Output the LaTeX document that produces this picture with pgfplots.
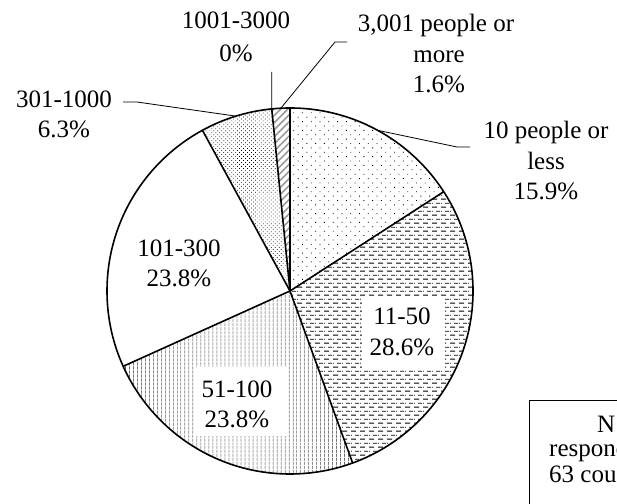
\documentclass[border=0pt]{standalone}
\usepackage{pgfplots}
\pgfplotsset{compat=1.18}
\usepackage{pgfplotstable}
\usepackage{fontspec}
\setmainfont{Liberation Serif}
\usetikzlibrary{patterns.meta}

\tikzdeclarepattern{
  name=hdash,
  type=uncolored,
  bounding box={(0pt,0pt) and (9pt,7.8pt)},
  tile size={(9pt,7.8pt)},
  code={
    \draw[line width=0.8pt] (0pt,1.9pt) -- (5.6pt,1.9pt);
    \draw[line width=0.8pt] (4.5pt,5.8pt) -- (9pt,5.8pt);
    \draw[line width=0.8pt] (0pt,5.8pt) -- (1.1pt,5.8pt);
  }
}

% counts of 63 responses, in order clockwise from the top
\pgfplotstableread{
label count percent
10orless 10 15.9
11-50 18 28.6
51-100 15 23.8
101-300 15 23.8
301-1000 4 6.3
1001-3000 0 0
3001+ 1 1.6
}\piedata

\newcommand\getang[2]{%
  \pgfplotstablegetelem{#1}{count}\of\piedata
  \pgfmathsetmacro{#2}{\pgfplotsretval/63*360}}

\def\C{(axis cs:290,212)}

\begin{document}
\begin{tikzpicture}[font=\fontsize{25}{31}\selectfont]
\clip (0,0) rectangle (617pt,503pt);
% cumulative angles (clockwise from 90 degrees)
\gdef\aA{90}
\getang{0}{\dA}\pgfmathsetmacro{\aB}{\aA-\dA}
\getang{1}{\dB}\pgfmathsetmacro{\aC}{\aB-\dB}
\getang{2}{\dC}\pgfmathsetmacro{\aD}{\aC-\dC}
\getang{3}{\dD}\pgfmathsetmacro{\aE}{\aD-\dD}
\getang{4}{\dE}\pgfmathsetmacro{\aF}{\aE-\dE}
\getang{5}{\dF}\pgfmathsetmacro{\aG}{\aF-\dF}
\getang{6}{\dG}\pgfmathsetmacro{\aH}{\aG-\dG}
\pgfmathsetmacro{\mA}{(\aA+\aB)/2}
\pgfmathsetmacro{\mE}{(\aE+\aF)/2}
\pgfmathsetmacro{\mG}{(\aG+\aH)/2}
\xdef\aB{\aB}\xdef\aC{\aC}\xdef\aD{\aD}\xdef\aE{\aE}\xdef\aF{\aF}\xdef\aG{\aG}\xdef\aH{\aH}
\xdef\mA{\mA}\xdef\mE{\mE}\xdef\mG{\mG}
\begin{axis}[at={(0,0)}, anchor=south west, x=1pt, y=1pt,
  xmin=0, xmax=617, ymin=0, ymax=503, hide axis, clip=false]
% slices
\fill[pattern={Dots[distance=6.2pt,angle=45,radius=0.6pt]}] \C -- ++(\aA:183pt) arc[start angle=\aA, end angle=\aB, radius=183pt] -- cycle;
\fill[pattern=hdash] \C -- ++(\aB:183pt) arc[start angle=\aB, end angle=\aC, radius=183pt] -- cycle;
\fill[pattern={Lines[angle=90,distance=4pt,line width=0.6pt]}] \C -- ++(\aC:183pt) arc[start angle=\aC, end angle=\aD, radius=183pt] -- cycle;
\fill[pattern={Dots[distance=2.8pt,angle=45,radius=0.5pt]}] \C -- ++(\aE:183pt) arc[start angle=\aE, end angle=\aF, radius=183pt] -- cycle;
\fill[pattern={Lines[angle=45,distance=5pt,line width=1.6pt]}, pattern color=black!40] \C -- ++(\aG:183pt) arc[start angle=\aG, end angle=\aH, radius=183pt] -- cycle;
% boundaries
\draw[line width=1.6pt] \C circle[radius=183pt];
\draw[line width=1.6pt] \C -- ++(\aA:183pt);
\draw[line width=1.6pt] \C -- ++(\aB:183pt);
\draw[line width=1.6pt] \C -- ++(\aC:183pt);
\draw[line width=1.6pt] \C -- ++(\aD:183pt);
\draw[line width=1.6pt] \C -- ++(\aE:183pt);
\draw[line width=1.6pt] \C -- ++(\aF:183pt);
% leader lines
\draw[line width=0.8pt] \C ++(\mA:183pt) -- (axis cs:457,356) -- (axis cs:470,356);
\draw[line width=0.8pt] \C ++(\mG:183pt) -- (axis cs:335,461) -- (axis cs:347,461);
\draw[line width=0.8pt] \C ++(\aF:183pt) -- (axis cs:271.8,431);
\draw[line width=0.8pt] \C ++(\mE:183pt) -- (axis cs:137,401) -- (axis cs:123,401);
% white label boxes
\fill[white] (axis cs:362,135) rectangle (axis cs:445,207);
\fill[white] (axis cs:194,67) rectangle (axis cs:286,136);
% labels
\node[anchor=base] at (axis cs:236,474) {1001-3000};
\node[anchor=base] at (axis cs:236,441) {0\%};
\node[anchor=base] at (axis cs:436,471) {3,001 people or};
\node[anchor=base] at (axis cs:439,440) {more};
\node[anchor=base] at (axis cs:439,410) {1.6\%};
\node[anchor=base] at (axis cs:546,364) {10 people or};
\node[anchor=base] at (axis cs:546,333) {less};
\node[anchor=base] at (axis cs:546,303) {15.9\%};
\node[anchor=base] at (axis cs:64,395) {301-1000};
\node[anchor=base] at (axis cs:64,365) {6.3\%};
\node[anchor=base] at (axis cs:179,246) {101-300};
\node[anchor=base] at (axis cs:179,216) {23.8\%};
\node[anchor=base] at (axis cs:402,178) {11-50};
\node[anchor=base] at (axis cs:402,147) {28.6\%};
\node[anchor=base] at (axis cs:237,106) {51-100};
\node[anchor=base] at (axis cs:237,76) {23.8\%};
% note box (cut off at the right and bottom)
\draw[line width=1pt] (axis cs:529,-20) rectangle (axis cs:720,103);
\node[anchor=base west, inner sep=0pt] at (axis cs:597,71) {N = 63};
\node[anchor=base west, inner sep=0pt] at (axis cs:549,47) {respondents};
\node[anchor=base west, inner sep=0pt] at (axis cs:549,21) {63 countries};
\end{axis}
\end{tikzpicture}
\end{document}
